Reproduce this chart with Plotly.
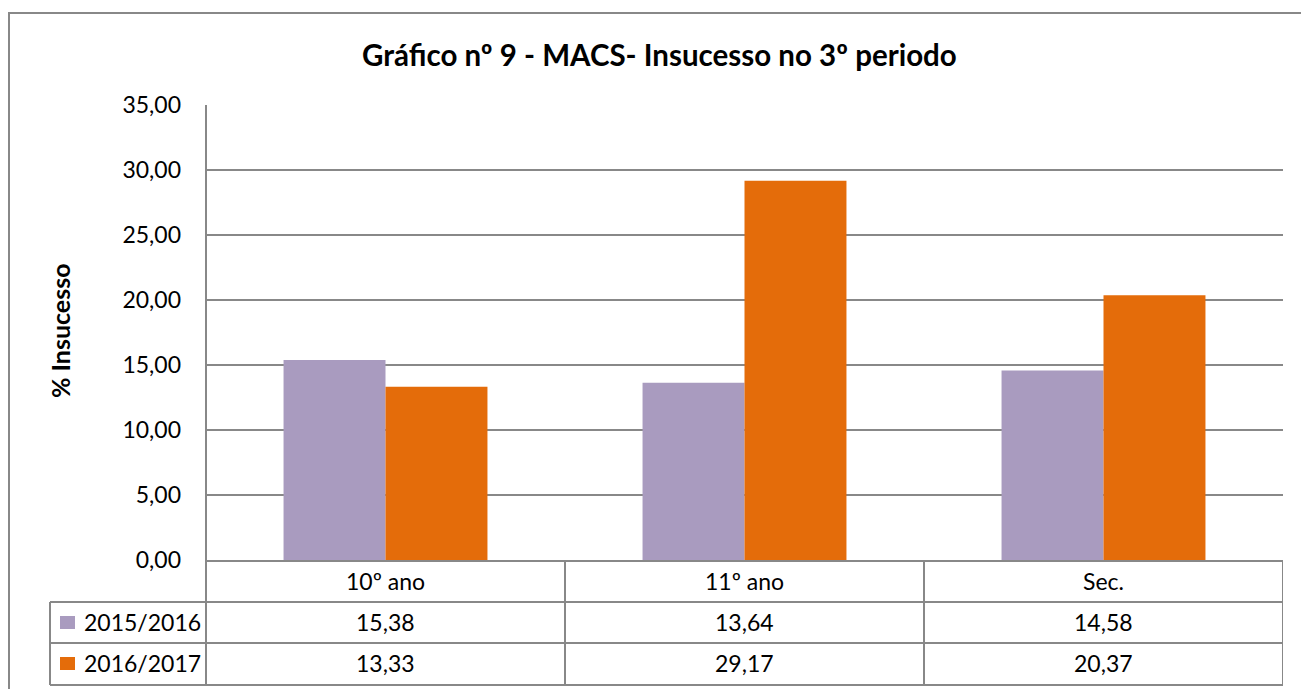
import plotly.graph_objects as go

categories = ["10º ano", "11º ano", "Sec."]
series_names = ["2015/2016", "2016/2017"]
values_2015_2016 = [15.38, 13.64, 14.58]
values_2016_2017 = [13.33, 29.17, 20.37]
colors = ["#A99BBF", "#E46C0A"]
y_ticks = [0, 5, 10, 15, 20, 25, 30, 35]

OFF = 8  # default page body margin
W, H = 1309 - OFF, 689 - OFF
L, R, T, B = 206 - OFF, 1283 - OFF, 105 - OFF, 560 - OFF
FONT = "Lato"
GRID = "#888888"
FS = 23


def px(xp):
    return (xp - OFF - L) / (R - L)


def py(yp):
    return (B - (yp - OFF)) / (B - T)


def fmt(v):
    return f"{v:.2f}".replace(".", ",")


fig = go.Figure()
all_series = [values_2015_2016, values_2016_2017]
for name, vals, col in zip(series_names, all_series, colors):
    fig.add_trace(go.Bar(x=categories, y=vals, name=name, marker=dict(color=col, line=dict(width=0))))

shapes = []
line = dict(color=GRID, width=2)
# outer border
shapes.append(dict(type="rect", xref="paper", yref="paper", x0=px(9), x1=px(1330), y0=py(13), y1=py(710),
                   line=dict(color=GRID, width=2), layer="below"))
# table horizontal lines
row_y = [602, 643, 685]
for yy in row_y:
    shapes.append(dict(type="line", xref="paper", yref="paper", x0=px(50), x1=1, y0=py(yy), y1=py(yy), line=line))
# left column verticals
shapes.append(dict(type="line", xref="paper", yref="paper", x0=px(50), x1=px(50), y0=py(602), y1=py(685), line=line))
shapes.append(dict(type="line", xref="paper", yref="paper", x0=0, x1=0, y0=1, y1=py(685), line=line))
# column separators
for xi in [0.5, 1.5, 2.5]:
    shapes.append(dict(type="line", xref="x", yref="paper", x0=xi, x1=xi, y0=0, y1=py(685), line=line))
# legend keys
key_rows = [(616, 629), (657, 670)]
for (y0, y1), col in zip(key_rows, colors):
    shapes.append(dict(type="rect", xref="paper", yref="paper", x0=px(60), x1=px(75), y0=py(y0), y1=py(y1),
                       fillcolor=col, line=dict(width=0)))

annotations = []
tfont = dict(family=FONT, size=FS, color="#000000")
# category row
for i, c in enumerate(categories):
    annotations.append(dict(x=i, y=py(581), xref="x", yref="paper", text=c, showarrow=False, font=tfont,
                            xanchor="center", yanchor="middle"))
row_centers = [622, 663]
for name, vals, yc in zip(series_names, all_series, row_centers):
    annotations.append(dict(x=px(82), y=py(yc), xref="paper", yref="paper", text=name, showarrow=False,
                            font=tfont, xanchor="left", yanchor="middle"))
    for i, v in enumerate(vals):
        annotations.append(dict(x=i, y=py(yc), xref="x", yref="paper", text=fmt(v), showarrow=False,
                                font=tfont, xanchor="center", yanchor="middle"))
# title
annotations.append(dict(x=px(659), y=py(55), xref="paper", yref="paper",
                        text="<b>Gráfico nº 9 - MACS- Insucesso no 3º periodo</b>", showarrow=False,
                        font=dict(family=FONT, size=29.5, color="#000000"), xanchor="center", yanchor="middle"))
# y axis title
annotations.append(dict(x=px(60), y=py(331), xref="paper", yref="paper", text="<b>% Insucesso</b>",
                        showarrow=False, textangle=-90, font=dict(family=FONT, size=25, color="#000000"),
                        xanchor="center", yanchor="middle"))

fig.update_layout(
    width=W, height=H, autosize=False,
    margin=dict(l=L, r=W - R, t=T, b=H - B, pad=0),
    paper_bgcolor="white", plot_bgcolor="white",
    showlegend=False,
    separators=",.",
    bargap=0.432, bargroupgap=0,
    barmode="group",
    shapes=shapes, annotations=annotations,
    font=dict(family=FONT, size=FS, color="#000000"),
)
fig.update_yaxes(range=[0, 35], tickvals=y_ticks, tickformat=".2f", showgrid=True, gridcolor=GRID, gridwidth=2,
                 showline=False, zeroline=False, ticks="", ticklabelstandoff=24,
                 tickfont=dict(family=FONT, size=FS, color="#000000"))
fig.update_xaxes(range=[-0.5, 2.5], showticklabels=False, showgrid=False, zeroline=False,
                 showline=True, linecolor=GRID, linewidth=2, ticks="")

fig.write_html("out.html")
